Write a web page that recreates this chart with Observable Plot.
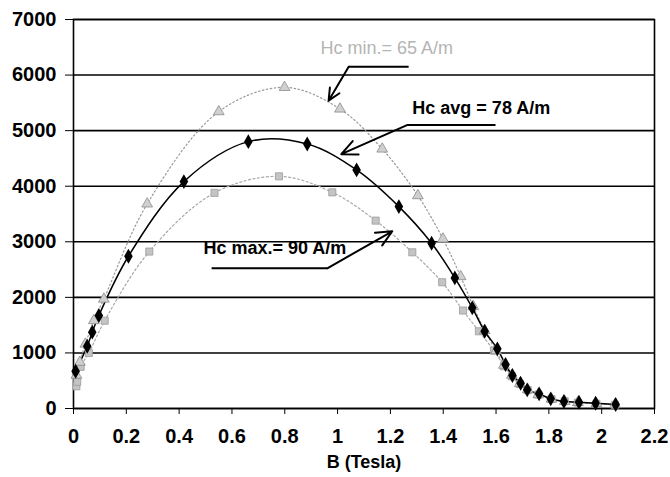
<!DOCTYPE html>
<html>
<head>
<meta charset="utf-8">
<script src="https://cdn.jsdelivr.net/npm/d3@7"></script>
<script src="https://cdn.jsdelivr.net/npm/@observablehq/plot@0.6"></script>
<style>
  html, body { margin: 0; padding: 0; background: #fff; }
  #chart { width: 670px; height: 477px; }
</style>
</head>
<body>
<div id="chart"></div>
<script>
// ---- data ----
const avgB = [0.008, 0.052, 0.071, 0.096, 0.208, 0.418, 0.662, 0.885, 1.072, 1.232, 1.356, 1.444, 1.510, 1.557, 1.605, 1.636, 1.662, 1.693, 1.718, 1.763, 1.807, 1.857, 1.914, 1.977, 2.053];
const avgH = [670, 1120, 1373, 1673, 2740, 4083, 4802, 4760, 4293, 3633, 2973, 2350, 1811, 1390, 1074, 791, 594, 455, 336, 264, 174, 126, 113, 95, 72];

const minB = [0.011, 0.024, 0.045, 0.077, 0.115, 0.279, 0.550, 0.799, 1.009, 1.169, 1.304, 1.399, 1.466, 1.514, 1.557, 1.600, 1.630, 1.660, 1.690, 1.720, 1.760, 1.810, 1.860, 1.910, 1.980, 2.050];
const minH = [600, 833, 1160, 1583, 1970, 3682, 5342, 5779, 5390, 4670, 3831, 3052, 2374, 1835, 1403, 1040, 780, 600, 450, 340, 250, 170, 130, 110, 90, 70];

const maxB = [0.011, 0.014, 0.027, 0.058, 0.118, 0.287, 0.534, 0.778, 0.980, 1.144, 1.283, 1.396, 1.475, 1.535, 1.592, 1.630, 1.660, 1.690, 1.720, 1.760, 1.810, 1.860, 1.910, 1.980, 2.050];
const maxH = [400, 480, 750, 1000, 1580, 2824, 3880, 4178, 3890, 3381, 2811, 2272, 1763, 1390, 1043, 760, 580, 440, 330, 250, 170, 130, 105, 85, 65];

const xTicks = [0, 0.2, 0.4, 0.6, 0.8, 1, 1.2, 1.4, 1.6, 1.8, 2, 2.2];
const yTicks = [0, 1000, 2000, 3000, 4000, 5000, 6000, 7000];
const xLabel = ["B (Tesla)"];

// annotations (data units)
const labelText = ["Hc min.= 65 A/m", "Hc avg = 78 A/m", "Hc max.= 90 A/m"];
const labelB = [0.935, 1.283, 0.492];
const labelH = [6478, 5408, 2885];

const underB1 = [1.269, 1.598, 0.523];
const underB2 = [1.042, 1.265, 0.961];
const underH = [6151, 5103, 2523];
const arrowB2 = [0.966, 1.014, 1.207];
const arrowH2 = [5540, 4577, 3189];

// ---- build tables ----
const avg = avgB.map((b, i) => ({b, h: avgH[i]}));
const mn = minB.map((b, i) => ({b, h: minH[i]}));
const mx = maxB.map((b, i) => ({b, h: maxH[i]}));
const labels = labelText.map((t, i) => ({t, b: labelB[i], h: labelH[i]}));
const segs = labelText.map((t, i) => ({x1: underB1[i], x2: underB2[i], y: underH[i], ax: arrowB2[i], ay: arrowH2[i]}));

const font = "'Liberation Sans', Arial, sans-serif";

const chart = Plot.plot({
  width: 670,
  height: 477,
  marginLeft: 73,
  marginRight: 16,
  marginTop: 19,
  marginBottom: 69,
  style: {fontFamily: font, fontSize: "20px", fontWeight: "bold", color: "#000", background: "#fff"},
  x: {domain: [0, 2.2], ticks: xTicks, tickFormat: d => String(+d.toFixed(1)), tickSize: 6, tickPadding: 14, label: null},
  y: {domain: [0, 7000], ticks: yTicks, tickFormat: d => String(d), tickSize: 8, tickPadding: 9, label: null},
  marks: [
    Plot.ruleY(yTicks, {stroke: "#000", strokeWidth: 1.6}),
    Plot.frame({stroke: "#000", strokeWidth: 1.6}),
    // min curve
    Plot.line(mn, {x: "b", y: "h", curve: "catmull-rom", stroke: "#9a9a9a", strokeWidth: 1.2, strokeDasharray: "1.5,2.5"}),
    // max curve
    Plot.line(mx, {x: "b", y: "h", curve: "catmull-rom", stroke: "#a8a8a8", strokeWidth: 1.2, strokeDasharray: "2,2.5"}),
    // avg curve
    Plot.line(avg, {x: "b", y: "h", curve: "catmull-rom", stroke: "#000", strokeWidth: 1.5}),
    Plot.dot(mx, {x: "b", y: "h", symbol: "square", r: 4, fill: "#c4c4c4", stroke: "#9a9a9a", strokeWidth: 0.8}),
    Plot.dot(mn, {x: "b", y: "h", symbol: "triangle", r: 4, fill: "#d0d0d0", stroke: "#8a8a8a", strokeWidth: 0.8}),
    Plot.dot(avg, {x: "b", y: "h", symbol: "diamond", r: 4.5, fill: "#000"}),
    // annotations
    Plot.link(segs, {x1: "x1", x2: "x2", y1: "y", y2: "y", stroke: "#000", strokeWidth: 2}),
    Plot.arrow(segs, {x1: "x2", y1: "y", x2: "ax", y2: "ay", stroke: "#000", strokeWidth: 2, headLength: 13, headAngle: 50}),
    Plot.text(labels.slice(0, 1), {x: "b", y: "h", text: "t", fill: "#b4b4b4", fontWeight: "normal", textAnchor: "start", lineAnchor: "middle", fontSize: 18}),
    Plot.text(labels.slice(1), {x: "b", y: "h", text: "t", fill: "#000", fontWeight: "bold", textAnchor: "start", lineAnchor: "middle", fontSize: 18}),
    Plot.text(xLabel, {frameAnchor: "bottom", dy: 59, fontSize: 18, fontWeight: "bold", fill: "#000"})
  ]
});
document.getElementById("chart").appendChild(chart);
</script>
</body>
</html>
